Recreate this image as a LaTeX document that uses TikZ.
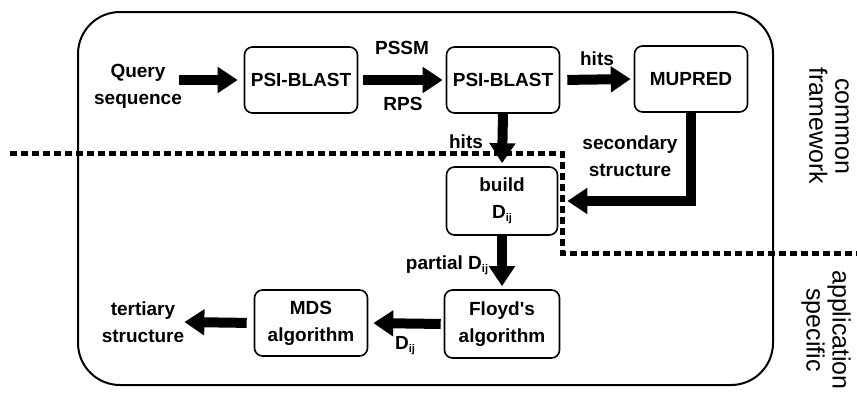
\documentclass[tikz,border=0pt]{standalone}
\usepackage{fontspec}
\setmainfont{Liberation Sans}
\usetikzlibrary{arrows.meta}
\newcommand{\Dij}{D\raisebox{-3pt}{\fontsize{11}{11}\selectfont ij}}
\begin{document}
\begin{tikzpicture}[x=1pt,y=-1pt,
  box/.style={draw,line width=1.6pt,rounded corners=8pt,minimum width=113pt,minimum height=66pt,align=center,font=\bfseries\fontsize{19}{27}\selectfont,inner sep=0pt},
  lbl/.style={align=center,font=\bfseries\fontsize{19}{27}\selectfont,inner sep=0pt},
  side/.style={align=center,font=\fontsize{25}{26}\selectfont,rotate=-90,inner sep=0pt},
  big/.style={line width=10pt,line join=miter,-{Triangle[length=20pt,width=25pt]}},
  ]
\useasboundingbox (0,0) rectangle (857,394);
\draw[line width=2pt,rounded corners=42pt] (78,12) rectangle (773,385);
\draw[line width=5pt,dash pattern=on 7pt off 4pt] (10,153) -- (562,153) -- (562,253) -- (857,253);

\node[lbl] (q) at (138,86) {Query\\sequence};
\node[box] (p1) at (301,80) {PSI-BLAST};
\node[box] (p2) at (503,80) {PSI-BLAST};
\node[box] (mu) at (691,79) {MUPRED};
\node[box,minimum height=68pt,minimum width=111pt] (bd) at (502,201) {build\\\Dij};
\node[box,minimum height=68pt,minimum width=115pt] (fl) at (502,324) {Floyd\textquotesingle s\\algorithm};
\node[box] (mds) at (311,323) {MDS\\algorithm};
\node[lbl] (ter) at (143,322) {tertiary\\structure};

\draw[big,shorten <=-3pt,shorten >=6pt] (q.east |- p1.west) -- (p1.west);
\draw[big,shorten <=5pt,shorten >=3pt] (p1.east) -- (p2.west);
\draw[big,shorten <=7pt,shorten >=3pt] (p2.east) -- (mu.west);
\draw[big,shorten >=3pt] (p2.south) -- (bd.north);
\draw[big,shorten >=9pt] (mu.south) |- (bd.east);
\draw[big,shorten >=3pt] (bd.south) -- (fl.north);
\draw[big,shorten <=3pt,shorten >=5pt] (fl.west) -- (mds.east);
\draw[big,shorten <=7pt] (mds.west) -- (ter.east);

\node[lbl] (l1) at (402,48) {PSSM};
\node[lbl] (l2) at (403,104) {RPS};
\node[lbl] (l3) at (597,59) {hits};
\node[lbl] (l4) at (466,142) {hits};
\node[lbl] (l5) at (630,156) {secondary\\structure};
\node[lbl] (l6) at (447,265) {partial \Dij};
\node[lbl] (l7) at (405,346) {\Dij};

\node[side] (cf) at (829,126) {common\\framework};
\node[side] (as) at (826,330) {application\\specific};
\end{tikzpicture}
\end{document}
